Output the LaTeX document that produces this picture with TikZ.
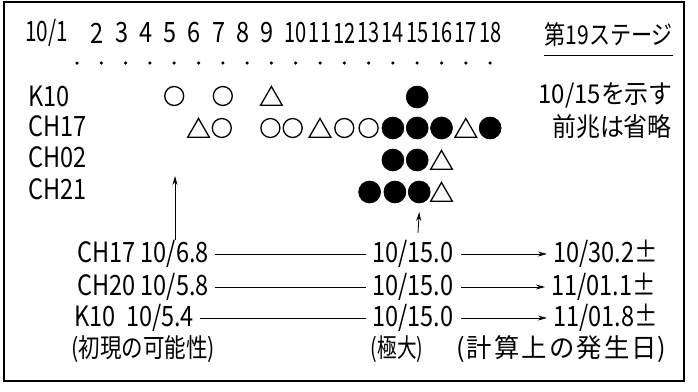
\documentclass[tikz,border=0pt]{standalone}
\usepackage{fontspec}
\usepackage{graphicx}
\setmainfont{Noto Sans CJK JP}[FakeStretch=0.84]
\newfontfamily\jp{Noto Sans CJK JP}[FakeStretch=0.92]
\usetikzlibrary{shapes.geometric,arrows.meta}
\newcommand{\gp}{\hspace{2pt}}
\begin{document}
\begin{tikzpicture}[x=1pt,y=-1pt,
  txt/.style={inner sep=0pt,font=\fontsize{28}{28}\selectfont},
  jtxt/.style={inner sep=0pt,font=\fontsize{26}{26}\selectfont\jp},
  hdr/.style={inner sep=0pt,font=\fontsize{28}{28}\selectfont},
  opencirc/.style={circle,draw,line width=1.3pt,minimum size=19pt,inner sep=0pt},
  fullcirc/.style={circle,fill,draw,line width=0.6pt,minimum size=22pt,inner sep=0pt},
  tri/.style={regular polygon,regular polygon sides=3,draw,line width=1.3pt,minimum size=25pt,inner sep=0pt,yshift=-3pt},
  conn/.style={line width=0.8pt},
  arr/.style={line width=0.8pt,-{Stealth[length=9pt,width=5pt]}},
  dotmark/.style={circle,fill,inner sep=0pt,minimum size=3.5pt}
]
\useasboundingbox (0,0) rectangle (698,391);
\fill[white] (0,0) rectangle (698,391);
% frame
\draw[line width=1.2pt] (4,2) rectangle (684,381);

% header numbers
\node[hdr,anchor=east] (h1) at (68,33) {\scalebox{0.88}[1]{10/1}};
\foreach \d in {2,...,9}{
  \node[hdr] (h\d) at ({77+(\d-1)*24.3-4},33) {\d};
}
\foreach \d in {10,...,18}{
  \node[hdr] (h\d) at ({77+(\d-1)*24.3},33) {\scalebox{0.85}[1]{\d}};
}
% dots
\foreach \d in {1,...,18}{
  \node[dotmark] (p\d) at ({77+(\d-1)*24.3},63) {};
}
% title
\node[jtxt,anchor=east] (title) at (673,35) {\scalebox{0.88}[1]{第19ステージ}};
\draw[line width=1pt] (title.west |- 0,55) -- (title.east |- 0,55);

% row labels
\node[txt,anchor=west] (rK10) at (28,96) {K10};
\node[txt,anchor=west] (rCH17) at (28,126) {CH17};
\node[txt,anchor=west] (rCH02) at (28,157) {CH02};
\node[txt,anchor=west] (rCH21) at (28,189) {CH21};

% right notes
\node[jtxt,anchor=east] (note1) at (673,95) {10/15を示す};
\node[jtxt,anchor=east] (note2) at (672,127) {前兆は省略};

% K10 row (y=96)
\node[opencirc] (k5) at ({77+4*24.3},96) {};
\node[opencirc] (k7) at ({77+6*24.3},96) {};
\node[tri] (k9) at ({77+8*24.3},96) {};
\node[fullcirc] (k15) at ({77+14*24.3},97) {};

% CH17 row (y=128)
\node[tri] (a6) at ({77+5*24.3},128) {};
\node[opencirc] (a7) at ({77+6*24.3-1},128) {};
\node[opencirc] (a9) at ({77+8*24.3-1},128) {};
\node[opencirc] (a10) at ({77+9*24.3-3},128) {};
\node[tri] (a11) at ({77+10*24.3},128) {};
\node[opencirc] (a12) at ({77+11*24.3},128) {};
\node[opencirc] (a13) at ({77+12*24.3},128) {};
\node[fullcirc] (a14) at ({77+13*24.3},128) {};
\node[fullcirc] (a15) at ({77+14*24.3},128) {};
\node[fullcirc] (a16) at ({77+15*24.3},128) {};
\node[tri] (a17) at ({77+16*24.3},128) {};
\node[fullcirc] (a18) at ({77+17*24.3},128) {};

% CH02 row (y=160)
\node[fullcirc] (b14) at ({77+13*24.3},160) {};
\node[fullcirc] (b15) at ({77+14*24.3},160) {};
\node[tri] (b16) at ({77+15*24.3},160) {};

% CH21 row (y=192)
\node[fullcirc] (c13) at ({77+12*24.3+1},192) {};
\node[fullcirc] (c14) at ({77+13*24.3+2},192) {};
\node[fullcirc] (c15) at ({77+14*24.3+2},192) {};
\node[tri] (c16) at ({77+15*24.3},192) {};

% bottom table
\node[txt,anchor=west] (L1) at (77,254) {CH17 10/6.8};
\node[txt,anchor=west] (L2) at (77,287) {CH20 10/5.8};
\node[txt,anchor=west] (L3) at (74,318) {K10\ \ 10/5.4};
\node[jtxt,anchor=west] (L4) at (71,349) {\scalebox{0.9}[1]{(初現の可能性)}};

\node[txt,anchor=west] (M1) at (372,254) {10/15.0};
\node[txt,anchor=west] (M2) at (372,287) {10/15.0};
\node[txt,anchor=west] (M3) at (372,318) {10/15.0};
\node[jtxt] (M4) at (397,349) {\scalebox{0.82}[1]{(極大)}};

\node[txt,anchor=west] (R1) at (553,254) {10/30.2±};
\node[txt,anchor=west] (R2) at (551,287) {11/01.1±};
\node[txt,anchor=west] (R3) at (553,318) {11/01.8±};
\node[jtxt] (R4) at (561,349) {\scalebox{1.06}[1]{(\gp 計\gp 算\gp 上\gp の\gp 発\gp 生\gp 日)}};

\draw[conn] ([xshift=6pt]L1.east) -- ([xshift=-6pt]M1.west);
\draw[conn] ([xshift=6pt]L2.east) -- ([xshift=-6pt]M2.west);
\draw[conn] ([xshift=6pt]L3.east) -- ([xshift=-6pt]M3.west);
\draw[arr] ([xshift=8pt]M1.east) -- ([xshift=-6pt]R1.west);
\draw[arr] ([xshift=8pt]M2.east) -- ([xshift=-6pt]R2.west);
\draw[arr] ([xshift=8pt]M3.east) -- ([xshift=-6pt]R3.west);

% up arrows
\coordinate (upL) at (175,240);
\coordinate (upR) at (418,233);
\draw[arr] (upL) -- (175,176);
\draw[arr] (upR) -- (c15.south |- 0,212);
\end{tikzpicture}
\end{document}
